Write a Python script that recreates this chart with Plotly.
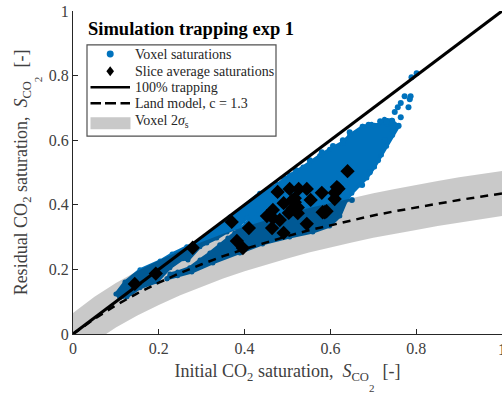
import plotly.graph_objects as go

BLUE = "#0072BD"
FONT = "Liberation Serif"
W, H = 502, 393
L, T, B = 73, 10.5, 58.7
PW, PH = W - L, H - T - B

# voxel cloud outline
cloud_x = [.219,.244,.277,.326,.389,.442,.505,.559,.598,.622,.638,.650,.668,.685,.703,.719,.731,.745,.759,.743,.726,.710,.696,.675,.645,.629,.598,.575,.536,.505,.477,.454,.435,.366,.296,.265,.231,.203,.156,.121,.100,.109,.126,.156,.196,.226,.256,.268,.296,.312,.335,.359,.382,.405,.431,.403,.377,.361,.342,.319,.296,.272,.244,.226,.219]
cloud_y = [.171,.180,.192,.220,.251,.279,.300,.316,.334,.365,.415,.436,.461,.483,.517,.554,.581,.615,.643,.662,.665,.646,.649,.643,.616,.594,.572,.553,.517,.492,.464,.446,.436,.362,.288,.270,.248,.226,.199,.161,.124,.112,.115,.143,.162,.205,.233,.229,.270,.282,.297,.316,.328,.359,.390,.341,.313,.297,.276,.251,.229,.205,.192,.186,.171]

# isolated voxel points near the tip and along the rough edges of the cloud
voxel_x = [.773,.787,.785,.764,.782,.757,.750,.764,.789,.801,.732,.744,.703,.689,.675,.629,.759,.745,.727,.711,.692,.674,.650,.645,.629,.606,.580,.552,.520,.492,.746,.730,.716]
voxel_y = [.736,.736,.727,.715,.702,.702,.687,.671,.795,.807,.650,.660,.645,.648,.642,.591,.645,.630,.600,.538,.501,.461,.415,.625,.600,.582,.563,.538,.507,.483,.637,.656,.659]

# slice averages
slice_x = [.144,.193,.279,.370,.410,.382,.396,.477,.505,.526,.545,.580,.615,.610,.640,.554,.491,.466,.452,.482,.464,.491,.545,.587,.503,.524,.517,.517,.511,.524,.512,.610,.619,.582,.591,.466]
slice_y = [.155,.187,.267,.347,.328,.288,.266,.440,.449,.449,.449,.437,.455,.418,.504,.415,.405,.384,.365,.353,.328,.313,.341,.377,.375,.374,.408,.420,.414,.392,.389,.437,.450,.377,.380,.359]

# Land model curve and band
land_x = [0,.05,.10,.15,.20,.25,.30,.35,.40,.45,.50,.55,.60,.65,.70,.75,.80,.85,.90,.95,1]
land_y = [0,.047,.089,.126,.159,.189,.216,.241,.263,.284,.303,.321,.337,.352,.367,.380,.392,.404,.415,.425,.435]
band_up = [.065,.115,.158,.195,.228,.258,.285,.310,.332,.353,.372,.390,.406,.421,.436,.449,.462,.474,.485,.495,.505]
band_lo = [-.068,-.022,.020,.057,.090,.120,.147,.172,.194,.215,.234,.252,.268,.283,.298,.311,.322,.334,.345,.355,.365]
full_x = [0, 1]
full_y = [0, 1]

tick_vals = [0, .2, .4, .6, .8, 1]
tick_text = ["0", "0.2", "0.4", "0.6", "0.8", "1"]
legend_labels = ["Voxel saturations", "Slice average saturations", "100% trapping",
                 "Land model, c = 1.3", "Voxel 2<i>σ</i><sub>s</sub>"]


def px(x):
    return (x - L) / PW


def py(y):
    return (H - B - y) / PH


fig = go.Figure()
fig.add_trace(go.Scatter(x=cloud_x, y=cloud_y, mode="lines+markers", fill="toself", fillcolor=BLUE,
                         line=dict(color=BLUE, width=3), marker=dict(color=BLUE, size=5),
                         showlegend=False, hoverinfo="skip"))
fig.add_trace(go.Scatter(x=voxel_x, y=voxel_y, mode="markers", marker=dict(color=BLUE, size=6),
                         showlegend=False))
fig.add_trace(go.Scatter(x=land_x + land_x[::-1], y=band_up + band_lo[::-1], mode="lines", fill="toself",
                         fillcolor="rgba(0,0,0,0.21)", line=dict(width=0), showlegend=False))
fig.add_trace(go.Scatter(x=full_x, y=full_y, mode="lines", showlegend=False,
                         line=dict(color="black", width=3)))
fig.add_trace(go.Scatter(x=land_x, y=land_y, mode="lines", showlegend=False,
                         line=dict(color="black", width=2.5, dash="8px,6px")))
fig.add_trace(go.Scatter(x=slice_x, y=slice_y, mode="markers", showlegend=False,
                         marker=dict(color="black", size=11, symbol="diamond")))

axis = dict(range=[0, 1], tickvals=tick_vals, ticktext=tick_text, ticks="inside", ticklen=5,
            tickwidth=1, tickcolor="#262626", showline=True, linecolor="#262626", linewidth=1,
            showgrid=False, zeroline=False, tickfont=dict(family=FONT, size=16, color="#404040"))

def rect(x0, y0, x1, y1, **kw):
    return dict(type="rect", xref="paper", yref="paper", x0=px(x0), x1=px(x1), y0=py(y0), y1=py(y1), **kw)


def seg(x0, x1, y, width=2.5):
    return dict(type="line", xref="paper", yref="paper", x0=px(x0), x1=px(x1), y0=py(y), y1=py(y),
                line=dict(color="black", width=width))


shapes = [
    rect(87, 44.5, 276, 136, fillcolor="white", line=dict(color="#505050", width=1.2)),
    dict(type="circle", xref="paper", yref="paper", x0=px(106.7), x1=px(113.7), y0=py(50), y1=py(57),
         fillcolor=BLUE, line=dict(width=0)),
    dict(type="path", xref="paper", yref="paper",
         path=f"M {px(110.2)} {py(66)} L {px(114)} {py(71)} L {px(110.2)} {py(76)} L {px(106.4)} {py(71)} Z",
         fillcolor="black", line=dict(width=0)),
    seg(90.5, 130, 87),
    seg(90.5, 101, 103), seg(105, 116, 103), seg(120.5, 130, 103),
    rect(90.5, 117, 130.5, 129, fillcolor="#c9c9c9", line=dict(width=0)),
]

annotations = [dict(text="<b>Simulation trapping exp 1</b>", xref="paper", yref="paper", x=px(86), y=py(29),
                    xanchor="left", yanchor="middle", showarrow=False,
                    font=dict(family=FONT, size=18.5, color="black")),
               dict(text="2", xref="paper", yref="paper", x=px(372), y=py(388), xanchor="center",
                    yanchor="middle", showarrow=False, font=dict(family=FONT, size=11, color="#404040")),
               dict(text="2", xref="paper", yref="paper", x=px(38), y=py(79), xanchor="center",
                    yanchor="middle", textangle=-90, showarrow=False,
                    font=dict(family=FONT, size=11, color="#404040")),
               dict(text=tick_text[-1], xref="x", yref="paper", x=tick_vals[-1], y=py(350), xanchor="center",
                    yanchor="middle", showarrow=False, font=dict(family=FONT, size=16, color="#404040"))]
for label, row in zip(legend_labels, [54, 71, 87, 103, 121]):
    annotations.append(dict(text=label, xref="paper", yref="paper", x=px(132.5), y=py(row), xanchor="left",
                            yanchor="middle", showarrow=False, font=dict(family=FONT, size=14, color="#262626")))

fig.update_layout(
    width=W, height=H, margin=dict(l=L, r=0, t=T, b=B),
    paper_bgcolor="white", plot_bgcolor="white", showlegend=False,
    font=dict(family=FONT, color="#404040"),
    xaxis=dict(axis, title=dict(text="Initial CO<sub>2</sub> saturation,  <i>S</i><sub>CO</sub>   [-]",
                                font=dict(family=FONT, size=18, color="#404040"), standoff=8)),
    yaxis=dict(axis, title=dict(text="Residual CO<sub>2</sub> saturation,  <i>S</i><sub>CO</sub>   [-]",
                                font=dict(family=FONT, size=18, color="#404040"), standoff=16)),
    shapes=shapes, annotations=annotations,
)
fig.write_html("out.html", config=dict(displayModeBar=False), post_script="document.body.style.margin='0';")
